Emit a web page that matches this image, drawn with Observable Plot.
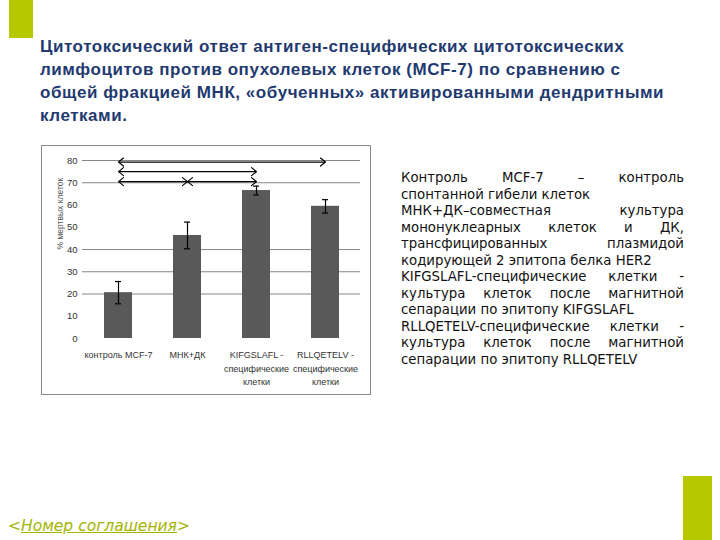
<!DOCTYPE html>
<html><head><meta charset="utf-8">
<script src="https://cdn.jsdelivr.net/npm/d3@7"></script>
<script src="https://cdn.jsdelivr.net/npm/@observablehq/plot@0.6"></script>
<style>
body{margin:0;background:#fff;}
#page{position:relative;width:720px;height:540px;overflow:hidden;background:#fff;}
.gbar{position:absolute;background:#b5c800;}
#title{position:absolute;left:40px;top:35px;width:680px;font-family:"Liberation Sans",Arial,sans-serif;font-weight:bold;font-size:17px;letter-spacing:0.55px;line-height:23px;color:#1f3a70;white-space:nowrap;}
#chart{position:absolute;left:41px;top:145px;border:1px solid #8c8c8c;width:328px;height:248px;}
#chart svg{display:block;}
#notes{position:absolute;left:401px;top:170px;width:283px;font-family:"DejaVu Sans",Verdana,sans-serif;font-size:13.3px;line-height:16.5px;color:#111;}
#notes div{white-space:nowrap;}
#notes div.j{text-align:justify;text-align-last:justify;white-space:normal;}
#footer{position:absolute;left:8px;top:517px;font-family:"DejaVu Sans",Verdana,sans-serif;font-style:italic;font-size:15.5px;line-height:18px;color:#a3b400;}
</style></head><body>
<div id="page">
 <div class="gbar" style="left:9px;top:0;width:24px;height:38px"></div>
 <div id="title"></div>
 <div id="chart"></div>
 <div id="notes"></div>
 <div id="footer">&lt;<u>Номер соглашения</u>&gt;</div>
 <div class="gbar" style="left:683px;top:476px;width:29px;height:64px"></div>
</div>
<script>
const titleLines = [
  "Цитотоксический ответ антиген-специфических цитотоксических",
  "лимфоцитов против опухолевых клеток (MCF-7) по сравнению с",
  "общей фракцией МНК, «обученных» активированными дендритными",
  "клетками."
];
const categories = ["контроль MCF-7", "МНК+ДК", "KIFGSLAFL -\nспецифические\nклетки", "RLLQETELV -\nспецифические\nклетки"];
const values = [20.6, 46.3, 66.5, 59.4];
const errors = [5, 6, 2, 3];
const yTicks = [0, 10, 20, 30, 40, 50, 60, 70, 80];
const gridValues = [20, 30, 40, 70, 80];
const arrowFrom = [0, 0, 0, 1];
const arrowTo = [3, 2, 1, 2];
const arrowLevel = [79.3, 75, 70.5, 70.5];
const yLabel = "% мертвых клеток";
const noteLines = [
  ["Контроль MCF-7 – контроль", true],
  ["спонтанной гибели клеток", false],
  ["МНК+ДК–совместная культура", true],
  ["мононуклеарных клеток и ДК,", true],
  ["трансфицированных плазмидой", true],
  ["кодирующей 2 эпитопа белка HER2", false],
  ["KIFGSLAFL-специфические клетки -", true],
  ["культура клеток после магнитной", true],
  ["сепарации по эпитопу KIFGSLAFL", false],
  ["RLLQETELV-специфические клетки -", true],
  ["культура клеток после магнитной", true],
  ["сепарации по эпитопу RLLQETELV", false]
];

document.getElementById("title").innerHTML = titleLines.join("<br>");
const notes = document.getElementById("notes");
for (const [t, j] of noteLines) {
  const d = document.createElement("div");
  d.textContent = t;
  if (j) d.className = "j";
  notes.appendChild(d);
}

const data = categories.map((c, i) => ({cat: c, value: values[i], err: errors[i]}));
const arrows = arrowFrom.map((f, i) => ({x1: categories[f], x2: categories[arrowTo[i]], y: arrowLevel[i]}));

function chevron(color, context) {
  const m = d3.create("svg:marker")
    .attr("viewBox", "-6 -6 12 12")
    .attr("markerWidth", 12)
    .attr("markerHeight", 12)
    .attr("markerUnits", "userSpaceOnUse")
    .attr("orient", "auto-start-reverse")
    .attr("fill", "none")
    .attr("stroke", color)
    .attr("stroke-width", 1.2)
    .attr("stroke-linecap", "round")
    .attr("stroke-linejoin", "miter");
  m.append("path").attr("d", "M-5,-4L0,0L-5,4");
  return m.node();
}

const chart = Plot.plot({
  width: 328, height: 248,
  marginLeft: 40, marginRight: 10, marginTop: 14, marginBottom: 56,
  x: {domain: categories, paddingInner: 0.6, paddingOuter: 0.3},
  y: {domain: [0, 80]},
  style: {fontFamily: "'Liberation Sans Narrow','Liberation Sans',sans-serif", fontSize: "9px", color: "#333", background: "transparent"},
  marks: [
    Plot.ruleY(gridValues, {stroke: "#868686", strokeOpacity: 1}),
    Plot.barY(data, {x: "cat", y: "value", fill: "#595959"}),
    Plot.ruleX(data, {x: "cat", y1: d => d.value - d.err, y2: d => d.value + d.err, stroke: "#000", strokeWidth: 1.2}),
    Plot.tickY(data, {x: "cat", y: d => d.value - d.err, insetLeft: 11, insetRight: 11, stroke: "#000", strokeWidth: 1.2}),
    Plot.tickY(data, {x: "cat", y: d => d.value + d.err, insetLeft: 11, insetRight: 11, stroke: "#000", strokeWidth: 1.2}),
    Plot.link(arrows, {x1: "x1", x2: "x2", y1: "y", y2: "y", markerStart: chevron, markerEnd: chevron, stroke: "#000", strokeWidth: 1.2}),
    Plot.axisY({ticks: yTicks, tickSize: 0, tickPadding: 5, label: null, fontSize: 9.5}),
    Plot.axisX({tickSize: 0, tickPadding: 10, lineHeight: 1.5, label: null}),
    Plot.text([yLabel], {frameAnchor: "left", dx: -22, rotate: -90, fontSize: 8.5, fill: "#555"})
  ]
});
document.getElementById("chart").appendChild(chart);
</script>
</body></html>
